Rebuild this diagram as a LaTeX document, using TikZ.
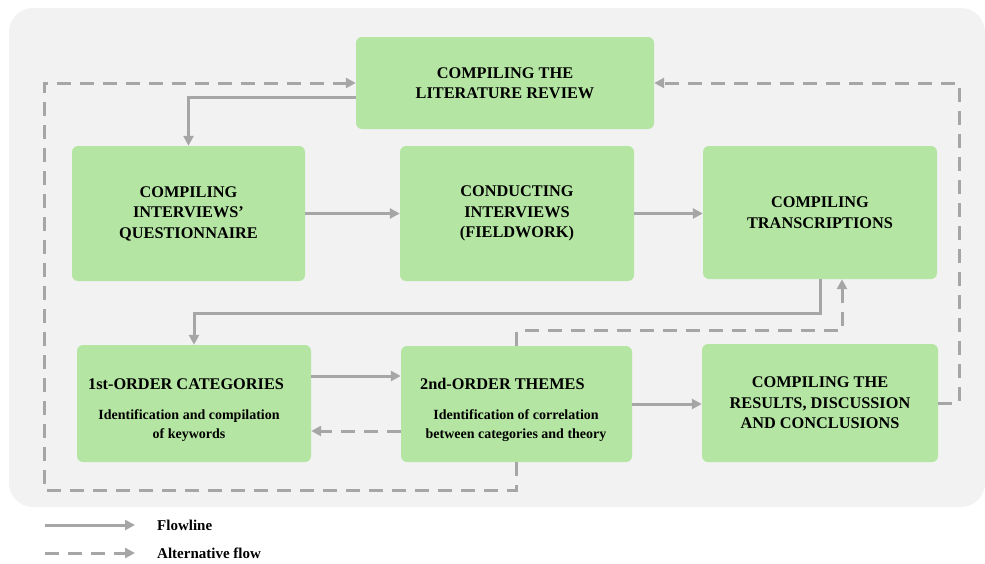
\documentclass[tikz,border=0pt]{standalone}
\usepackage{fontspec}
\setmainfont{Liberation Serif}
\usetikzlibrary{arrows.meta,calc}
\definecolor{bgray}{HTML}{F2F2F2}
\definecolor{boxgreen}{HTML}{B4E5A2}
\definecolor{lgray}{HTML}{A6A6A6}
\tikzset{
  box/.style={fill=boxgreen, rounded corners=6pt, inner sep=0pt, align=center,
    font=\fontsize{16.3}{20.5}\selectfont\bfseries, text=black},
  flow/.style={draw=lgray, line width=3pt, -{Triangle[length=10pt,width=10pt]}},
  altflow/.style={draw=lgray, line width=3pt, dash pattern=on 14pt off 9pt, -{Triangle[length=10pt,width=10pt]}},
  headtxt/.style={font=\fontsize{16.3}{20}\selectfont\bfseries, anchor=base west, inner sep=0pt},
  subtxt/.style={font=\fontsize{14}{19}\selectfont\bfseries, align=center, inner sep=0pt},
  legtxt/.style={font=\fontsize{15}{18}\selectfont\bfseries, anchor=west, inner sep=0pt}
}
\begin{document}
\begin{tikzpicture}[x=1pt,y=-1pt]
\useasboundingbox (0,0) rectangle (985,563);
\fill[bgray, rounded corners=24pt] (9,8) rectangle (985,507);

\node[box, minimum width=298pt, minimum height=92pt] (lit) at (505,83) {COMPILING THE\\LITERATURE REVIEW};
\node[box, minimum width=233pt, minimum height=135pt] (q) at (188.5,213.5) {COMPILING\\INTERVIEWS'\\QUESTIONNAIRE};
\node[box, minimum width=234pt, minimum height=135pt] (ci) at (517,213.5) {CONDUCTING\\INTERVIEWS\\(FIELDWORK)};
\node[box, minimum width=234pt, minimum height=133pt] (tr) at (820,212.5) {COMPILING\\TRANSCRIPTIONS};
\node[box, minimum width=234pt, minimum height=117pt] (c1) at (194,403.5) {};
\node[box, minimum width=231pt, minimum height=116pt] (c2) at (516.5,404) {};
\node[box, minimum width=236pt, minimum height=118pt] (res) at (820,403) {COMPILING THE\\RESULTS, DISCUSSION\\AND CONCLUSIONS};

\node[headtxt] (c1h) at (88,389.5) {1st-ORDER CATEGORIES};
\node[subtxt] (c1s) at (189,426) {Identification and compilation\\of keywords};
\node[headtxt] (c2h) at (420,389.5) {2nd-ORDER THEMES};
\node[subtxt] (c2s) at (516,426) {Identification of correlation\\between categories and theory};

% flowlines
\draw[flow] ([yshift=-14pt]lit.west) -| (q.north);
\draw[flow] (q.east) -- (ci.west);
\draw[flow] (ci.east) -- (ci.east -| tr.west);
\draw[flow] (tr.south) -- ++(0,34) -| (c1.north);
\draw[flow] ([yshift=27.5pt]c1.east) -- ([yshift=27.5pt]c1.east -| c2.west);
\draw[flow] (c2.east) -- (c2.east -| res.west);

% alternative flows
\draw[altflow] ([yshift=-27pt]c2.west) -- ([yshift=-27pt]c2.west -| c1.east);
\draw[altflow] (c2.north) -- ++(0,-15) -| ([xshift=22pt]tr.south);
\draw[altflow] (res.east) -- ++(21,0) |- (lit.east);
\coordinate (lb) at (44,490);
\draw[altflow] (c2.south) |- (lb) |- (lit.west);

% legend
\coordinate (f1) at (45,525);
\coordinate (f2) at (135,525);
\coordinate (a1) at (45,553);
\coordinate (a2) at (135,553);
\draw[flow] (f1) -- (f2);
\draw[altflow] (a1) -- (a2);
\node[legtxt] (fl) at (157,525) {Flowline};
\node[legtxt] (al) at (157,553) {Alternative flow};
\end{tikzpicture}
\end{document}
